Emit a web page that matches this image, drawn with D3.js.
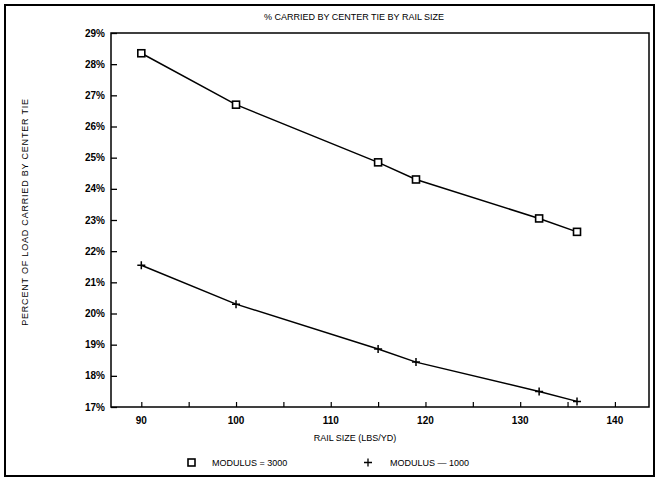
<!DOCTYPE html>
<html>
<head>
<meta charset="utf-8">
<title>% Carried by Center Tie</title>
<script src="https://d3js.org/d3.v7.min.js"></script>
<style>
  body { margin: 0; background: #fff; }
  text { font-family: "Liberation Sans", Arial, sans-serif; fill: #000; }
</style>
</head>
<body>
<div id="chart"></div>
<script>
// rail sizes (lbs/yd)
var railSize = [90, 100, 115, 119, 132, 136];
// percent of load carried by center tie
var modulus3000 = [28.35, 26.7, 24.85, 24.3, 23.05, 22.62];
var modulus1000 = [21.55, 20.3, 18.86, 18.44, 17.5, 17.18];
var xTicks = [90, 100, 110, 120, 130, 140];
var xMinorTicks = [90, 95, 100, 105, 110, 115, 120, 125, 130, 135, 140];
var yTicks = [17, 18, 19, 20, 21, 22, 23, 24, 25, 26, 27, 28, 29];

var width = 657, height = 479;
var plotLeft = 111, plotRight = 649, plotTop = 33, plotBottom = 407;

var svg = d3.select("#chart").append("svg")
  .attr("width", width)
  .attr("height", height);

// outer border
svg.append("rect")
  .attr("x", 5).attr("y", 5)
  .attr("width", 649).attr("height", 471)
  .attr("fill", "none")
  .attr("stroke", "#000")
  .attr("stroke-width", 2);

var x = d3.scaleLinear().domain([86.8, 143.6]).range([plotLeft, plotRight]);
var y = d3.scaleLinear().domain([17, 29]).range([plotBottom, plotTop]);

// plot frame
svg.append("rect")
  .attr("x", plotLeft).attr("y", plotTop)
  .attr("width", plotRight - plotLeft).attr("height", plotBottom - plotTop)
  .attr("fill", "none")
  .attr("stroke", "#000")
  .attr("stroke-width", 1.5);

// y axis: ticks point inward
var yAxis = svg.append("g")
  .attr("transform", "translate(" + plotLeft + ",0)")
  .call(d3.axisRight(y).tickValues(yTicks).tickSize(6).tickFormat(""));
yAxis.select(".domain").remove();
yAxis.selectAll("line").attr("stroke", "#000").attr("stroke-width", 1.3);

svg.selectAll(".ylab")
  .data(yTicks)
  .enter().append("text")
  .attr("class", "ylab")
  .attr("x", plotLeft - 6)
  .attr("y", function(d) { return y(d) + 3.5; })
  .attr("text-anchor", "end")
  .attr("font-size", 10)
  .attr("font-weight", "bold")
  .text(function(d) { return d + "%"; });

// x axis: ticks point up
var xAxis = svg.append("g")
  .attr("transform", "translate(0," + plotBottom + ")")
  .call(d3.axisTop(x).tickValues(xMinorTicks).tickSize(5).tickFormat(""));
xAxis.select(".domain").remove();
xAxis.selectAll("line").attr("stroke", "#000").attr("stroke-width", 1.2);

svg.selectAll(".xlab")
  .data(xTicks)
  .enter().append("text")
  .attr("class", "xlab")
  .attr("x", function(d) { return x(d); })
  .attr("y", plotBottom + 17)
  .attr("text-anchor", "middle")
  .attr("font-size", 10)
  .attr("font-weight", "bold")
  .text(function(d) { return d; });

// title + axis labels
svg.append("text")
  .attr("x", 354).attr("y", 20)
  .attr("text-anchor", "middle")
  .attr("font-size", 9)
  .text("% CARRIED BY CENTER TIE BY RAIL SIZE");

svg.append("text")
  .attr("x", 355).attr("y", 441)
  .attr("text-anchor", "middle")
  .attr("font-size", 9)
  .text("RAIL SIZE (LBS/YD)");

svg.append("text")
  .attr("transform", "translate(28,212) rotate(-90)")
  .attr("text-anchor", "middle")
  .attr("font-size", 9)
  .attr("letter-spacing", 0.8)
  .text("PERCENT OF LOAD CARRIED BY CENTER TIE");

// lines
var line = d3.line()
  .x(function(d) { return x(d[0]); })
  .y(function(d) { return y(d[1]); });

var upper = railSize.map(function(r, i) { return [r, modulus3000[i]]; });
var lower = railSize.map(function(r, i) { return [r, modulus1000[i]]; });

svg.append("path").datum(upper)
  .attr("d", line).attr("fill", "none")
  .attr("stroke", "#000").attr("stroke-width", 1.5);
svg.append("path").datum(lower)
  .attr("d", line).attr("fill", "none")
  .attr("stroke", "#000").attr("stroke-width", 1.5);

// markers
svg.selectAll(".sq")
  .data(upper)
  .enter().append("rect")
  .attr("class", "sq")
  .attr("x", function(d) { return x(d[0]) - 3.5; })
  .attr("y", function(d) { return y(d[1]) - 3.5; })
  .attr("width", 7).attr("height", 7)
  .attr("fill", "#fff")
  .attr("stroke", "#000")
  .attr("stroke-width", 1.6);

svg.selectAll(".plus")
  .data(lower)
  .enter().append("path")
  .attr("class", "plus")
  .attr("d", function(d) {
    var cx = x(d[0]), cy = y(d[1]);
    return "M" + (cx - 4) + "," + cy + "H" + (cx + 4) + "M" + cx + "," + (cy - 4) + "V" + (cy + 4);
  })
  .attr("stroke", "#000")
  .attr("stroke-width", 1.5);

// legend
var legend = svg.append("g");
legend.append("rect")
  .attr("x", 188).attr("y", 459)
  .attr("width", 7).attr("height", 7)
  .attr("fill", "#fff").attr("stroke", "#000").attr("stroke-width", 1.6);
legend.append("text")
  .attr("x", 212).attr("y", 466)
  .attr("font-size", 9)
  .text("MODULUS = 3000");
legend.append("path")
  .attr("d", "M364,462.5H372M368,458.5V466.5")
  .attr("stroke", "#000").attr("stroke-width", 1.3);
legend.append("text")
  .attr("x", 390).attr("y", 466)
  .attr("font-size", 9)
  .text("MODULUS \u2014 1000");
</script>
</body>
</html>
